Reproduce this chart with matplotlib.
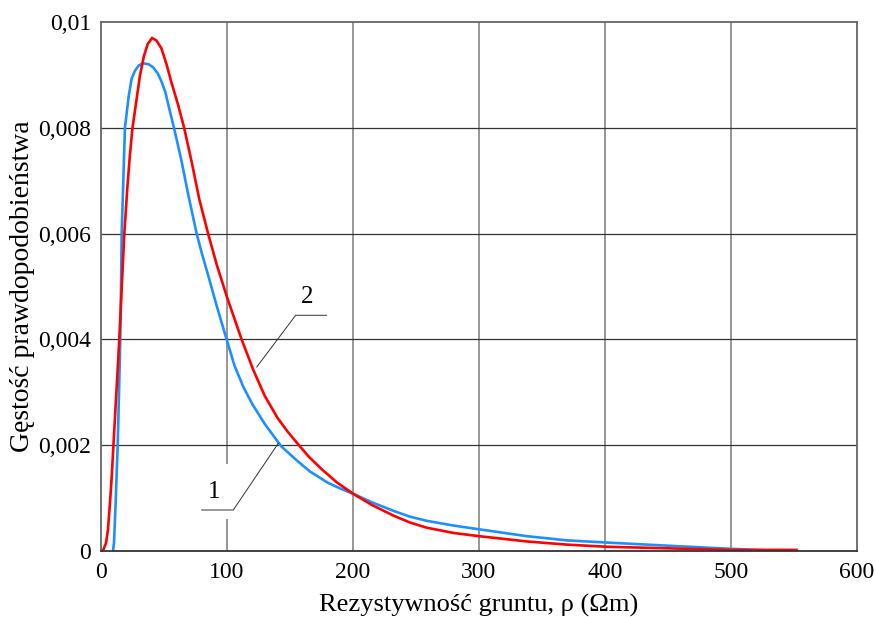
import numpy as np
import matplotlib
matplotlib.use('Agg')
import matplotlib.pyplot as plt

# krzywa 1 (niebieska) i krzywa 2 (czerwona)
rho_1 = [9.5, 10.3, 11.6, 13.2, 14.3, 15.3, 15.9, 16.4, 17.7, 19.0, 20.5, 22.0,
         24.3, 27.0, 30.0, 33.6, 38.0, 41.5, 45.0, 48.1, 51.0, 54.0, 57.9, 61.0,
         64.0, 69.3, 75.9, 80.0, 85.2, 92.0, 99.7, 106.0, 113.0, 120.0, 130.0,
         143.0, 155.0, 166.0, 180.0, 190.0, 200.2, 215.0, 232.0, 245.0, 258.5,
         280.0, 300.0, 338.0, 370.0, 401.0, 450.0, 500.0, 532.0]
gest_1 = [0.0, 0.00015, 0.0009, 0.00197, 0.0030, 0.0040, 0.0050, 0.0060, 0.0070,
          0.0080, 0.0083, 0.0086, 0.00893, 0.00908, 0.00918, 0.00922, 0.0092,
          0.00914, 0.00903, 0.00887, 0.00868, 0.00838, 0.0080, 0.00768, 0.00736,
          0.00673, 0.0060, 0.00563, 0.0052, 0.00462, 0.0040, 0.0035, 0.0031,
          0.00278, 0.0024, 0.00198, 0.00172, 0.0015, 0.00129, 0.00118, 0.00108,
          0.00092, 0.00076, 0.00065, 0.00057, 0.00048, 0.00041, 0.00028, 0.0002,
          0.00016, 0.0001, 0.00004, 0.00001]

rho_2 = [0.0, 2.0, 4.0, 5.5, 7.1, 8.5, 9.8, 11.5, 13.2, 14.5, 16.5, 18.5, 21.0,
         23.0, 25.0, 28.0, 31.0, 34.0, 37.0, 40.5, 44.0, 48.0, 52.0, 56.0, 61.0,
         66.0, 72.0, 78.0, 85.0, 92.0, 100.0, 111.6, 120.9, 130.0, 140.0, 148.0,
         156.0, 165.0, 175.0, 187.0, 200.2, 215.0, 232.0, 245.0, 258.5, 280.0,
         300.0, 338.0, 370.0, 401.0, 450.0, 500.0, 552.0]
gest_2 = [0.0, 0.00003, 0.00015, 0.0004, 0.0009, 0.0014, 0.00197, 0.0027, 0.00342,
          0.0040, 0.0050, 0.0060, 0.0069, 0.0075, 0.0080, 0.0085, 0.0090, 0.00935,
          0.00958, 0.0097, 0.00965, 0.0095, 0.0092, 0.00885, 0.00845, 0.0080,
          0.00735, 0.00665, 0.0060, 0.0054, 0.0048, 0.0040, 0.00342, 0.00293,
          0.00252, 0.00226, 0.00203, 0.00178, 0.00155, 0.0013, 0.00108, 0.00087,
          0.00067, 0.00054, 0.00044, 0.00034, 0.00028, 0.00018, 0.00012, 0.00008,
          0.00005, 0.00002, 0.00002]

x_ticks = [0, 100, 200, 300, 400, 500, 600]
y_ticks = [0, 0.002, 0.004, 0.006, 0.008, 0.01]
y_tick_labels = ['0', '0,002', '0,004', '0,006', '0,008', '0,01']

plt.rcParams['font.family'] = ['Liberation Serif', 'DejaVu Serif']

fig = plt.figure(figsize=(8.76, 6.17), dpi=100)
ax = fig.add_axes([0.1153, 0.1070, 0.8630, 0.8573])

# siatka
for xv in x_ticks[1:-1]:
    ax.axvline(xv, color='#7a7a7a', lw=1.1, zorder=0)
for yv in y_ticks[1:-1]:
    ax.axhline(yv, color='#333333', lw=0.9, zorder=0)

ax.plot(rho_1, gest_1, color='#1e8fff', lw=1.9, zorder=2)
ax.plot(rho_2, gest_2, color='#ff0000', lw=1.9, zorder=2)

# opisy krzywych
ax.plot([179.1, 154.5, 123.6], [0.004456, 0.004456, 0.003478], color='#333333', lw=0.7, zorder=4)
ax.text(163.3, 0.00481, '2', fontsize=18, ha='center', va='center', zorder=3)
ax.plot([79.9, 105.0, 140.7], [0.000775, 0.000775, 0.002036], color='#333333', lw=0.7, zorder=4)
ax.text(89.9, 0.00112, '1', fontsize=18, ha='center', va='center', zorder=3,
        bbox=dict(facecolor='white', edgecolor='none', pad=12))

ax.set_xlim(0, 600)
ax.set_ylim(0, 0.01)
ax.set_xticks(x_ticks)
ax.set_yticks(y_ticks)
ax.set_yticklabels(y_tick_labels)
ax.tick_params(axis='both', length=0, labelsize=17)
ax.tick_params(axis='y', pad=7)
ax.tick_params(axis='x', pad=8)

for s in ax.spines.values():
    s.set_color('#666666')
    s.set_linewidth(1.3)
ax.spines['bottom'].set_color('#333333')

ax.set_xlabel('Rezystywność gruntu, ρ (Ωm)', fontsize=19, labelpad=8)
ax.set_ylabel('Gęstość prawdopodobieństwa', fontsize=20, va='center')
ax.yaxis.set_label_coords(-0.104, 0.5)

fig.savefig('out.png', dpi=100)
